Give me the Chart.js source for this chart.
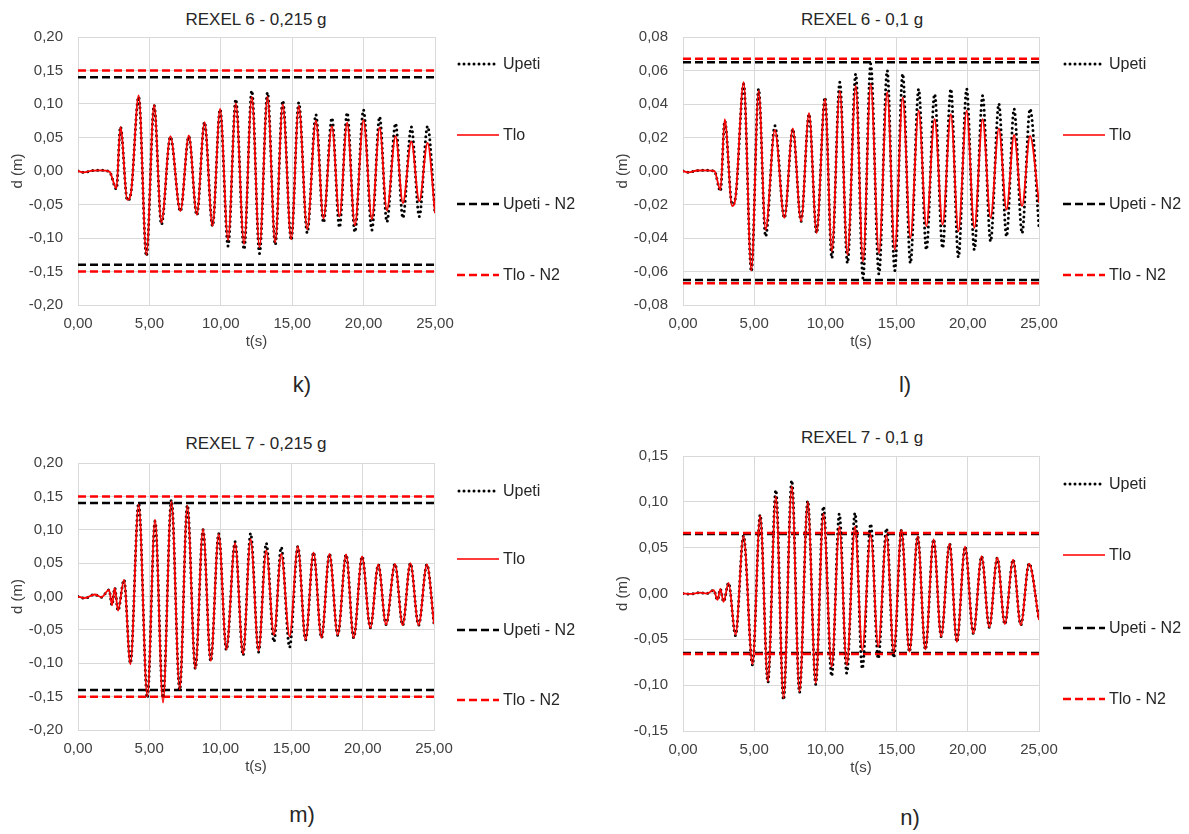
<!DOCTYPE html>
<html>
<head>
<meta charset="utf-8">
<script src="https://cdn.jsdelivr.net/npm/chart.js@4.4.1/dist/chart.umd.min.js"></script>
<style>
  body { margin: 0; width: 1189px; height: 834px; background: #fff; position: relative; overflow: hidden;
         font-family: "Liberation Sans", Arial, sans-serif; color: #262626; }
  canvas { position: absolute; }
  .title { position: absolute; font-size: 17px; transform: translate(-50%, -50%); white-space: nowrap; }
  .sub { position: absolute; font-size: 22px; transform: translate(-50%, -50%); }
  .leg { position: absolute; display: flex; align-items: center; font-size: 16px; transform: translateY(-50%); white-space: nowrap; }
  .leg svg { margin-right: 4px; }
</style>
</head>
<body>

<div class="title" style="left:256px;top:20px">REXEL 6 - 0,215 g</div>
<div class="title" style="left:862px;top:20px">REXEL 6 - 0,1 g</div>
<div class="title" style="left:256px;top:444px">REXEL 7 - 0,215 g</div>
<div class="title" style="left:862px;top:438px">REXEL 7 - 0,1 g</div>

<div class="sub" style="left:302px;top:385px">k)</div>
<div class="sub" style="left:905px;top:385px">l)</div>
<div class="sub" style="left:302px;top:815px">m)</div>
<div class="sub" style="left:910px;top:818px">n)</div>

<canvas id="chartK"></canvas>
<canvas id="chartL"></canvas>
<canvas id="chartM"></canvas>
<canvas id="chartN"></canvas>

<div id="legends"></div>

<script>
// ---------------- datos ----------------
const legendLabels = ['Upeti', 'Tlo', 'Upeti - N2', 'Tlo - N2'];

// k) REXEL 6 - 0,215 g
const kTime  = [0, 0.4, 1.0, 1.6, 2.2, 2.69, 2.97, 3.46, 3.72, 4.25, 4.79, 5.33, 5.84, 6.47, 7.17, 7.76, 8.32, 8.86, 9.42, 9.95,
                10.51, 11.05, 11.63, 12.17, 12.71, 13.27, 13.81, 14.34, 14.93, 15.46, 16.05, 16.66, 17.19, 17.78, 18.31, 18.85,
                19.39, 19.99, 20.58, 21.12, 21.63, 22.24, 22.75, 23.34, 23.90, 24.48, 25.0];
const kUpeti = [0, -0.002, 0.0005, 0.001, -0.001, -0.027, 0.066, -0.044, -0.031, 0.111, -0.127, 0.098, -0.080, 0.051, -0.060, 0.052, -0.066, 0.073, -0.082, 0.092,
                -0.112, 0.107, -0.117, 0.120, -0.123, 0.117, -0.110, 0.105, -0.103, 0.102, -0.092, 0.084, -0.077, 0.079, -0.084, 0.087,
                -0.091, 0.091, -0.088, 0.081, -0.076, 0.071, -0.070, 0.066, -0.068, 0.067, -0.063];
const kTlo   = [0, -0.002, 0.0005, 0.001, -0.001, -0.026, 0.066, -0.043, -0.031, 0.113, -0.125, 0.0985, -0.077, 0.052, -0.060, 0.053, -0.065, 0.073, -0.082, 0.0925,
                -0.103, 0.101, -0.109, 0.111, -0.114, 0.111, -0.107, 0.0995, -0.102, 0.097, -0.087, 0.075, -0.071, 0.067, -0.068, 0.072,
                -0.081, 0.076, -0.072, 0.065, -0.059, 0.052, -0.048, 0.044, -0.045, 0.042, -0.063];
const kN2    = [0.14, 0.15];   // Upeti - N2, Tlo - N2

// l) REXEL 6 - 0,1 g
const lTime  = [0, 0.4, 1.0, 1.6, 2.2, 2.63, 2.93, 3.45, 3.7, 4.26, 4.80, 5.31, 5.80, 6.45, 7.12, 7.71, 8.29, 8.85, 9.38, 9.97,
                10.45, 11.01, 11.55, 12.13, 12.64, 13.18, 13.76, 14.34, 14.87, 15.43, 15.97, 16.55, 17.09, 17.67, 18.23, 18.81,
                19.34, 19.92, 20.46, 21.04, 21.60, 22.18, 22.72, 23.25, 23.81, 24.37, 25.0];
const lUpeti = [0, -0.0008, 0.0003, 0.0004, 0, -0.012, 0.030, -0.020, -0.015, 0.052, -0.060, 0.049, -0.039, 0.027, -0.028, 0.025, -0.030, 0.034, -0.037, 0.044,
                -0.052, 0.053, -0.055, 0.058, -0.064, 0.064, -0.0615, 0.060, -0.0595, 0.058, -0.055, 0.049, -0.047, 0.046, -0.046, 0.049,
                -0.0515, 0.049, -0.047, 0.045, -0.042, 0.040, -0.039, 0.037, -0.037, 0.037, -0.034];
const lTlo   = [0, -0.0008, 0.0003, 0.0004, 0, -0.0113, 0.031, -0.021, -0.015, 0.053, -0.0595, 0.048, -0.035, 0.0245, -0.028, 0.0255, -0.030, 0.0345, -0.037, 0.043,
                -0.048, 0.048, -0.050, 0.051, -0.054, 0.052, -0.049, 0.047, -0.047, 0.044, -0.040, 0.036, -0.033, 0.031, -0.032, 0.034,
                -0.036, 0.036, -0.034, 0.031, -0.028, 0.0255, -0.023, 0.0215, -0.021, 0.021, -0.019];
const lN2    = [0.065, 0.067];

// m) REXEL 7 - 0,215 g
const mTime  = [0, 0.47, 1.17, 1.64, 2.18, 2.39, 2.58, 2.81, 3.23, 3.68, 4.26, 4.87, 5.41, 5.97, 6.56, 7.14, 7.68, 8.24, 8.78, 9.32, 9.88,
                10.42, 11.03, 11.59, 12.12, 12.68, 13.22, 13.76, 14.27, 14.86, 15.44, 15.98, 16.54, 17.10, 17.66, 18.24, 18.83,
                19.36, 19.95, 20.53, 21.09, 21.63, 22.26, 22.80, 23.34, 23.92, 24.50, 25.0];
const mUpeti = [0, -0.0025, 0.003, -0.001, 0.010, -0.013, 0.013, -0.021, 0.025, -0.100, 0.140, -0.152, 0.113, -0.152, 0.145, -0.140, 0.137, -0.108, 0.100, -0.097, 0.094,
                -0.080, 0.082, -0.088, 0.0945, -0.083, 0.080, -0.068, 0.074, -0.076, 0.075, -0.065, 0.066, -0.062, 0.064, -0.058, 0.063,
                -0.062, 0.060, -0.047, 0.048, -0.042, 0.049, -0.043, 0.050, -0.043, 0.048, -0.041];
const mTlo   = [0, -0.0025, 0.003, -0.001, 0.010, -0.013, 0.013, -0.021, 0.025, -0.1015, 0.138, -0.150, 0.115, -0.159, 0.143, -0.139, 0.136, -0.108, 0.101, -0.0965, 0.0935,
                -0.079, 0.080, -0.086, 0.086, -0.081, 0.069, -0.058, 0.064, -0.060, 0.075, -0.065, 0.066, -0.062, 0.064, -0.058, 0.063,
                -0.062, 0.060, -0.047, 0.048, -0.042, 0.049, -0.043, 0.050, -0.043, 0.048, -0.041];
const mN2    = [0.14, 0.15];

// n) REXEL 7 - 0,1 g
const nTime  = [0, 0.5, 1.21, 1.68, 2.15, 2.43, 2.62, 2.85, 3.2, 3.69, 4.25, 4.88, 5.42, 5.96, 6.52, 7.06, 7.64, 8.18, 8.76, 9.32, 9.86,
                10.44, 10.98, 11.5, 12.08, 12.59, 13.18, 13.71, 14.29, 14.80, 15.34, 15.90, 16.48, 17.02, 17.60, 18.13, 18.72,
                19.23, 19.81, 20.39, 20.97, 21.51, 22.07, 22.60, 23.18, 23.72, 24.30, 25.0];
const nUpeti = [0, -0.0005, 0.001, 0, 0.0036, -0.007, 0.005, -0.009, 0.0116, -0.046, 0.063, -0.078, 0.086, -0.097, 0.113, -0.116, 0.1235, -0.108, 0.101, -0.099, 0.095,
                -0.090, 0.087, -0.087, 0.088, -0.082, 0.076, -0.071, 0.071, -0.070, 0.069, -0.0635, 0.0625, -0.061, 0.059, -0.047, 0.0545,
                -0.0527, 0.051, -0.0436, 0.0407, -0.037, 0.039, -0.0334, 0.037, -0.0345, 0.0327, -0.029];
const nTlo   = [0, -0.0005, 0.001, 0, 0.0036, -0.007, 0.005, -0.009, 0.0116, -0.045, 0.0625, -0.077, 0.085, -0.096, 0.106, -0.114, 0.117, -0.107, 0.100, -0.098, 0.087,
                -0.080, 0.073, -0.078, 0.073, -0.062, 0.064, -0.058, 0.064, -0.0635, 0.069, -0.0635, 0.0625, -0.061, 0.059, -0.047, 0.0545,
                -0.0527, 0.051, -0.0436, 0.0407, -0.037, 0.039, -0.0334, 0.037, -0.0345, 0.0327, -0.029];
const nN2    = [0.065, 0.066];

// ejes
const tMin = 0, tMax = 25, tStep = 5;
const kAxis = [-0.20, 0.20, 0.05];
const lAxis = [-0.08, 0.08, 0.02];
const mAxis = [-0.20, 0.20, 0.05];
const nAxis = [-0.15, 0.15, 0.05];

// ---------------- helpers ----------------
Chart.defaults.font.family = '"Liberation Sans", Arial, sans-serif';
Chart.defaults.font.size = 15;
Chart.defaults.color = '#404040';

const fmt = v => (Math.abs(v) < 1e-9 ? 0 : v).toFixed(2).replace('.', ',');
const pts = (t, v) => t.map((x, i) => ({ x: x, y: v[i] }));
const level = v => [{ x: tMin, y: v }, { x: tMax, y: v }];

function dashed(label, value, color, order) {
    return { label: label, data: level(value), borderColor: color, borderWidth: 2.5,
             borderDash: [8, 4], pointRadius: 0, order: order };
}

// plotLeft, plotTop, plotRight, plotBottom en px de la página
function drawChart(id, box, time, upeti, tlo, n2, axis) {
    const [pl, pt, pr, pb] = box;
    const canvas = document.getElementById(id);
    const cLeft = pl - 78, cTop = pt - 37;
    const w = pr - cLeft + 40, h = pb - cTop + 50;
    canvas.width = w; canvas.height = h;
    canvas.style.left = cLeft + 'px'; canvas.style.top = cTop + 'px';
    canvas.style.width = w + 'px'; canvas.style.height = h + 'px';

    new Chart(canvas.getContext('2d'), {
        type: 'line',
        data: {
            datasets: [
                { label: 'Tlo', data: pts(time, tlo), borderColor: '#ff0000', borderWidth: 1.8,
                  pointRadius: 0, cubicInterpolationMode: 'monotone', order: 0 },
                { label: 'Upeti', data: pts(time, upeti), borderColor: '#000000', borderWidth: 3,
                  borderDash: [0, 5], borderCapStyle: 'round', pointRadius: 0,
                  cubicInterpolationMode: 'monotone', order: 1 },
                dashed('Tlo - N2', n2[1], '#ff0000', 2),
                dashed('Tlo - N2', -n2[1], '#ff0000', 2),
                dashed('Upeti - N2', n2[0], '#000000', 3),
                dashed('Upeti - N2', -n2[0], '#000000', 3)
            ]
        },
        options: {
            responsive: false,
            animation: false,
            devicePixelRatio: 1,
            layout: { padding: { top: 37, right: 40, bottom: 0, left: 0 } },
            plugins: { legend: { display: false }, tooltip: { enabled: false } },
            scales: {
                x: {
                    type: 'linear', min: tMin, max: tMax,
                    ticks: { stepSize: tStep, padding: 10, maxRotation: 0, callback: v => fmt(v) },
                    grid: { color: '#d9d9d9', drawTicks: false },
                    border: { color: '#d9d9d9' },
                    title: { display: true, text: 't(s)', padding: { top: 0, bottom: 4 } },
                    afterFit: s => { s.height = 50; s.paddingLeft = 0; s.paddingRight = 0; }
                },
                y: {
                    min: axis[0], max: axis[1],
                    ticks: { stepSize: axis[2], padding: 15, callback: v => fmt(v) },
                    grid: { color: '#d9d9d9', drawTicks: false },
                    border: { color: '#d9d9d9' },
                    title: { display: true, text: 'd (m)', padding: { top: 9, bottom: 0 } },
                    afterFit: s => { s.width = 78; s.paddingTop = 0; s.paddingBottom = 0; }
                }
            }
        }
    });
}

drawChart('chartK', [78, 37, 435, 305], kTime, kUpeti, kTlo, kN2, kAxis);
drawChart('chartL', [683, 37, 1039, 305], lTime, lUpeti, lTlo, lN2, lAxis);
drawChart('chartM', [78, 463, 434, 730], mTime, mUpeti, mTlo, mN2, mAxis);
drawChart('chartN', [683, 456, 1039, 731], nTime, nUpeti, nTlo, nN2, nAxis);

// ---------------- leyendas ----------------
const samples = [
    '<line x1="2" y1="5" x2="40" y2="5" stroke="#000" stroke-width="3" stroke-dasharray="0 5" stroke-linecap="round"/>',
    '<line x1="0" y1="5" x2="42" y2="5" stroke="#ff3b3b" stroke-width="1.8"/>',
    '<line x1="0" y1="5" x2="42" y2="5" stroke="#000" stroke-width="2.5" stroke-dasharray="8 4"/>',
    '<line x1="0" y1="5" x2="42" y2="5" stroke="#ff0000" stroke-width="2.5" stroke-dasharray="8 4"/>'
];
const legendPos = [
    [457, [64, 135, 204, 275]],
    [1063, [64, 135, 204, 275]],
    [457, [491, 559, 630, 700]],
    [1063, [484, 555, 628, 699]]
];
const legBox = document.getElementById('legends');
legendPos.forEach(([x, ys]) => {
    ys.forEach((y, i) => {
        const d = document.createElement('div');
        d.className = 'leg';
        d.style.left = x + 'px';
        d.style.top = y + 'px';
        d.innerHTML = `<svg width="42" height="10">${samples[i]}</svg><span>${legendLabels[i]}</span>`;
        legBox.appendChild(d);
    });
});
</script>
</body>
</html>
